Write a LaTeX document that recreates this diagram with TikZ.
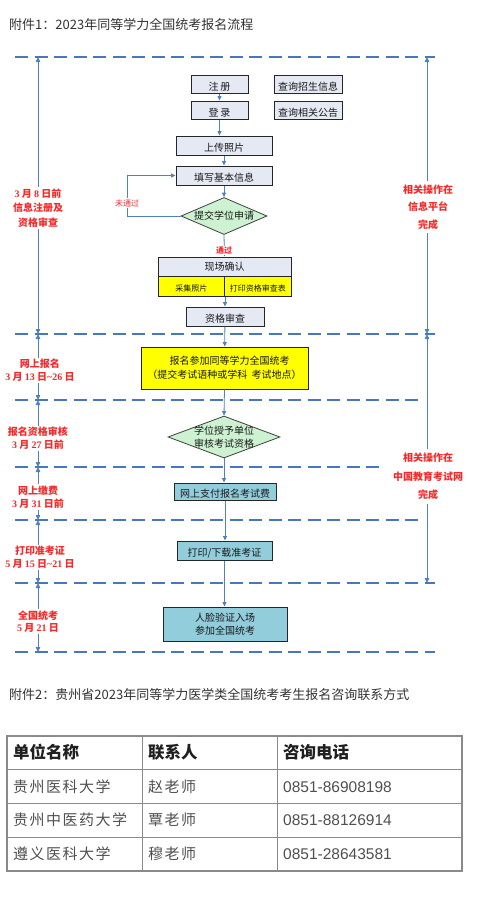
\documentclass[tikz,border=0pt]{standalone}
\usepackage{fontspec}
\setmainfont{Liberation Serif}
\newfontfamily\cjk{Noto Sans CJK SC}
\newfontfamily\cjksp{Noto Sans CJK SC}[LetterSpace=10]
\newfontfamily\phonefont{Liberation Sans}
\usetikzlibrary{shapes.geometric,arrows.meta}
\definecolor{dashblue}{HTML}{4A76C0}
\definecolor{arrblue}{HTML}{4F81BD}
\definecolor{boxfill}{HTML}{E4E9F4}
\definecolor{tealfill}{HTML}{92CDDC}
\definecolor{greenfill}{HTML}{CCF2D2}
\definecolor{ylw}{HTML}{FFFF00}
\definecolor{redtxt}{HTML}{F42A2A}
\definecolor{titlegray}{HTML}{333333}
\definecolor{tblline}{HTML}{8A8A8A}
\definecolor{bodygray}{HTML}{505050}
\newcommand\lowtx[1]{\raisebox{-2.5pt}[\height][\depth]{#1}}
\newcommand\dg[1]{{\rmfamily\bfseries #1}}
\tikzset{
  sep/.style={dashblue,line width=2.6pt,dash pattern=on 13pt off 6.5pt},
  tl/.style={arrblue,line width=0.8pt,{Triangle[length=5pt,width=4.5pt]}-{Triangle[length=5pt,width=4.5pt]}},
  flow/.style={arrblue,line width=0.8pt,-{Triangle[length=4.5pt,width=4pt]}},
  stepbox/.style={draw=black!85,line width=1pt,fill=boxfill,inner sep=0pt,
    font=\cjk\fontsize{10}{12}\selectfont,text=black!90},
  dia/.style={draw=black!75,line width=0.8pt,fill=greenfill,shape=diamond,inner sep=0pt},
  txt/.style={font=\cjk\fontsize{10}{12}\selectfont,text=black!90,inner sep=0pt},
  redlab/.style={font=\cjk\bfseries\fontsize{10}{14.5}\selectfont,text=redtxt,align=center,fill=white,inner sep=1.5pt},
  small/.style={font=\cjk\fontsize{8}{10}\selectfont,inner sep=0pt},
}
\begin{document}
\begin{tikzpicture}[x=1pt,y=-1pt]
\useasboundingbox[fill=white] (0,0) rectangle (478,910);

% title
\node[anchor=west,font=\cjk\fontsize{13}{15}\selectfont,text=titlegray,inner sep=0pt] (title1) at (9,25) {附件1：2023年同等学力全国统考报名流程};

% separator coordinates
\coordinate (d1l) at (15,57);  \coordinate (d1r) at (435,57);
\coordinate (d2l) at (15,334); \coordinate (d2r) at (435,334);
\coordinate (d3l) at (15,400); \coordinate (d3r) at (418,400);
\coordinate (d4l) at (15,467); \coordinate (d4r) at (383,467);
\coordinate (d5l) at (15,520); \coordinate (d5r) at (418,520);
\coordinate (d6l) at (15,583); \coordinate (d6r) at (435,583);
\coordinate (d7l) at (15,652); \coordinate (d7r) at (435,652);
\foreach \i in {1,...,7} {\draw[sep] (d\i l) -- (d\i r);}

% left timeline
\coordinate (L1) at (38,57);  \coordinate (L2) at (38,334);
\coordinate (L3) at (38,400); \coordinate (L4) at (38,467);
\coordinate (L5) at (38,520); \coordinate (L6) at (38,583);
\coordinate (L7) at (38,652);
\draw[tl] (L1) -- (L2);
\draw[tl] (L2) -- (L3);
\draw[tl] (L3) -- (L4);
\draw[tl] (L4) -- (L5);
\draw[tl] (L5) -- (L6);
\draw[tl] (L6) -- (L7);
\node[redlab] (lab1) at (38,208) {\dg{3} 月 \dg{8} 日前\\信息注册及\\资格审查};
\node[redlab,font=\cjk\bfseries\fontsize{10}{13}\selectfont] (lab2) at (40,370.5) {网上报名\\\dg{3} 月 \dg{13} 日\dg{\textasciitilde26} 日};
\node[redlab,font=\cjk\bfseries\fontsize{10}{13}\selectfont] (lab3) at (38,438.5) {报名资格审核\\\dg{3} 月 \dg{27} 日前};
\node[redlab,font=\cjk\bfseries\fontsize{10}{12.5}\selectfont] (lab4) at (38,497) {网上缴费\\\dg{3} 月 \dg{31} 日前};
\node[redlab,font=\cjk\bfseries\fontsize{10}{12.5}\selectfont] (lab5) at (40,557) {打印准考证\\\dg{5} 月 \dg{15} 日\dg{\textasciitilde21} 日};
\node[redlab,font=\cjk\bfseries\fontsize{10}{11.5}\selectfont] (lab6) at (38,621.5) {全国统考\\\dg{5} 月 \dg{21} 日};

% right timeline
\coordinate (R1) at (427,57); \coordinate (R2) at (427,334); \coordinate (R3) at (427,583);
\draw[tl] (R1) -- (R2);
\draw[tl] (R2) -- (R3);
\node[redlab,font=\cjk\bfseries\fontsize{10}{17.5}\selectfont,inner sep=4pt] (rlab1) at (428,207) {相关操作在\\信息平台\\完成};
\node[redlab,font=\cjk\bfseries\fontsize{10}{18.5}\selectfont,inner sep=4pt] (rlab2) at (428,476.5) {相关操作在\\中国教育考试网\\完成};

% flowchart boxes
\node[stepbox,minimum width=57,minimum height=18] (zhuce) at (219.5,84) {\lowtx{注\,册}};
\node[stepbox,minimum width=68,minimum height=18] (cxzs) at (308,84) {\lowtx{查询招生信息}};
\node[stepbox,minimum width=57,minimum height=18] (denglu) at (219.5,110) {\lowtx{登\,录}};
\node[stepbox,minimum width=68,minimum height=18] (cxgg) at (308,110) {\lowtx{查询相关公告}};
\node[stepbox,minimum width=96,minimum height=19] (upload) at (224,145.5) {\lowtx{上传照片}};
\node[stepbox,minimum width=96,minimum height=19] (fillin) at (224,175.5) {\lowtx{填写基本信息}};
\node[dia,minimum width=86,minimum height=37] (dia1) at (224,216) {};
\node[txt] (dia1t) at (dia1) {提交学位申请};
\node[stepbox,minimum width=133,minimum height=19] (xcqr) at (224.5,266.5) {现场确认};
\node[stepbox,fill=ylw,minimum width=66.5,minimum height=20,font=\cjk\fontsize{8}{10}\selectfont] (cjzp) at (191.25,286) {\lowtx{采集照片}};
\node[stepbox,fill=ylw,minimum width=66.5,minimum height=20,font=\cjk\fontsize{8}{10}\selectfont] (dyb) at (257.75,286) {\lowtx{打印资格审查表}};
\node[stepbox,minimum width=78,minimum height=19] (zgsc) at (225,316.5) {\lowtx{资格审查}};
\node[stepbox,fill=ylw,minimum width=167,minimum height=42,align=center,font=\cjk\fontsize{10}{14}\selectfont] (bm) at (224.5,368) {\hspace*{10pt}报名参加同等学力全国统考\\（提交考试语种或学科\ \ 考试地点）};
\node[dia,minimum width=112,minimum height=42] (dia2) at (224,437) {};
\node[txt,align=center,font=\cjk\fontsize{10}{12.5}\selectfont] (dia2t) at (dia2) {学位授予单位\\审核考试资格};
\node[stepbox,fill=tealfill,minimum width=102,minimum height=17] (pay) at (225,491.5) {\lowtx{网上支付报名考试费}};
\node[stepbox,fill=tealfill,minimum width=95,minimum height=19] (print) at (224.5,550.5) {\lowtx{打印/下载准考证}};
\node[stepbox,fill=tealfill,minimum width=124,minimum height=34,align=center,font=\cjk\fontsize{10}{13}\selectfont] (face) at (225,624) {人脸验证入场\\参加全国统考};

% flow arrows
\draw[flow] (zhuce) -- (denglu);
\draw[flow] (denglu.south) -- (denglu.south |- upload.north);
\draw[flow] (upload) -- (fillin);
\draw[flow] (fillin) -- (dia1);
\coordinate (loopc) at (127,216);
\draw[flow] (dia1.west) -- (loopc) |- (fillin.west);
\node[small,text=redtxt,fill=white,inner sep=1pt] (wtg) at (127,203) {未通过};
\draw[flow] (dia1.south) -- (xcqr.north);
\node[small,text=redtxt,fill=white,inner sep=0.5pt,font=\cjk\bfseries\fontsize{8}{10}\selectfont] (tg) at (224,250.5) {通过};
\draw[flow] (cjzp.south east) -- (zgsc.north -| cjzp.south east);
\draw[flow] (zgsc) -- (bm);
\draw[flow] (bm.south) -- (dia2.north);
\draw[flow] (dia2.south) -- (pay.north -| dia2.south);
\draw[flow] (pay.south) -- (print.north -| pay.south);
\draw[flow] (print.south) -- (face.north -| print.south);

% attachment 2
\node[anchor=west,font=\cjk\fontsize{13}{15}\selectfont,text=titlegray,inner sep=0pt] (title2) at (9,695) {附件2：贵州省2023年同等学力医学类全国统考考生报名咨询联系方式};

% table
\draw[tblline,line width=1.2pt] (7,736) rectangle (462,871);
\foreach \yy in {769,803,837} {\draw[tblline,line width=1pt] (7,\yy) -- (462,\yy);}
\foreach \xx in {142,277} {\draw[tblline,line width=1pt] (\xx,736) -- (\xx,871);}
\tikzset{hd/.style={anchor=west,inner sep=0pt,font=\cjk\bfseries\fontsize{16.5}{18}\selectfont,text=black!88},
  bd/.style={anchor=west,inner sep=0pt,font=\cjksp\fontsize{15}{18}\selectfont,text=bodygray},
  ph/.style={anchor=west,inner sep=0pt,font=\phonefont\fontsize{15.5}{18}\selectfont,text=bodygray}}
\node[hd] (h1) at (13,752) {单位名称};
\node[hd] (h2) at (148,752) {联系人};
\node[hd] (h3) at (283,752) {咨询电话};
\node[bd] (a1) at (13,787) {贵州医科大学};
\node[bd] (b1) at (148,787) {赵老师};
\node[ph] (c1) at (283,787) {0851-86908198};
\node[bd] (a2) at (13,820) {贵州中医药大学};
\node[bd] (b2) at (148,820) {覃老师};
\node[ph] (c2) at (283,820) {0851-88126914};
\node[bd] (a3) at (13,854) {遵义医科大学};
\node[bd] (b3) at (148,854) {穆老师};
\node[ph] (c3) at (283,854) {0851-28643581};
\end{tikzpicture}
\end{document}
